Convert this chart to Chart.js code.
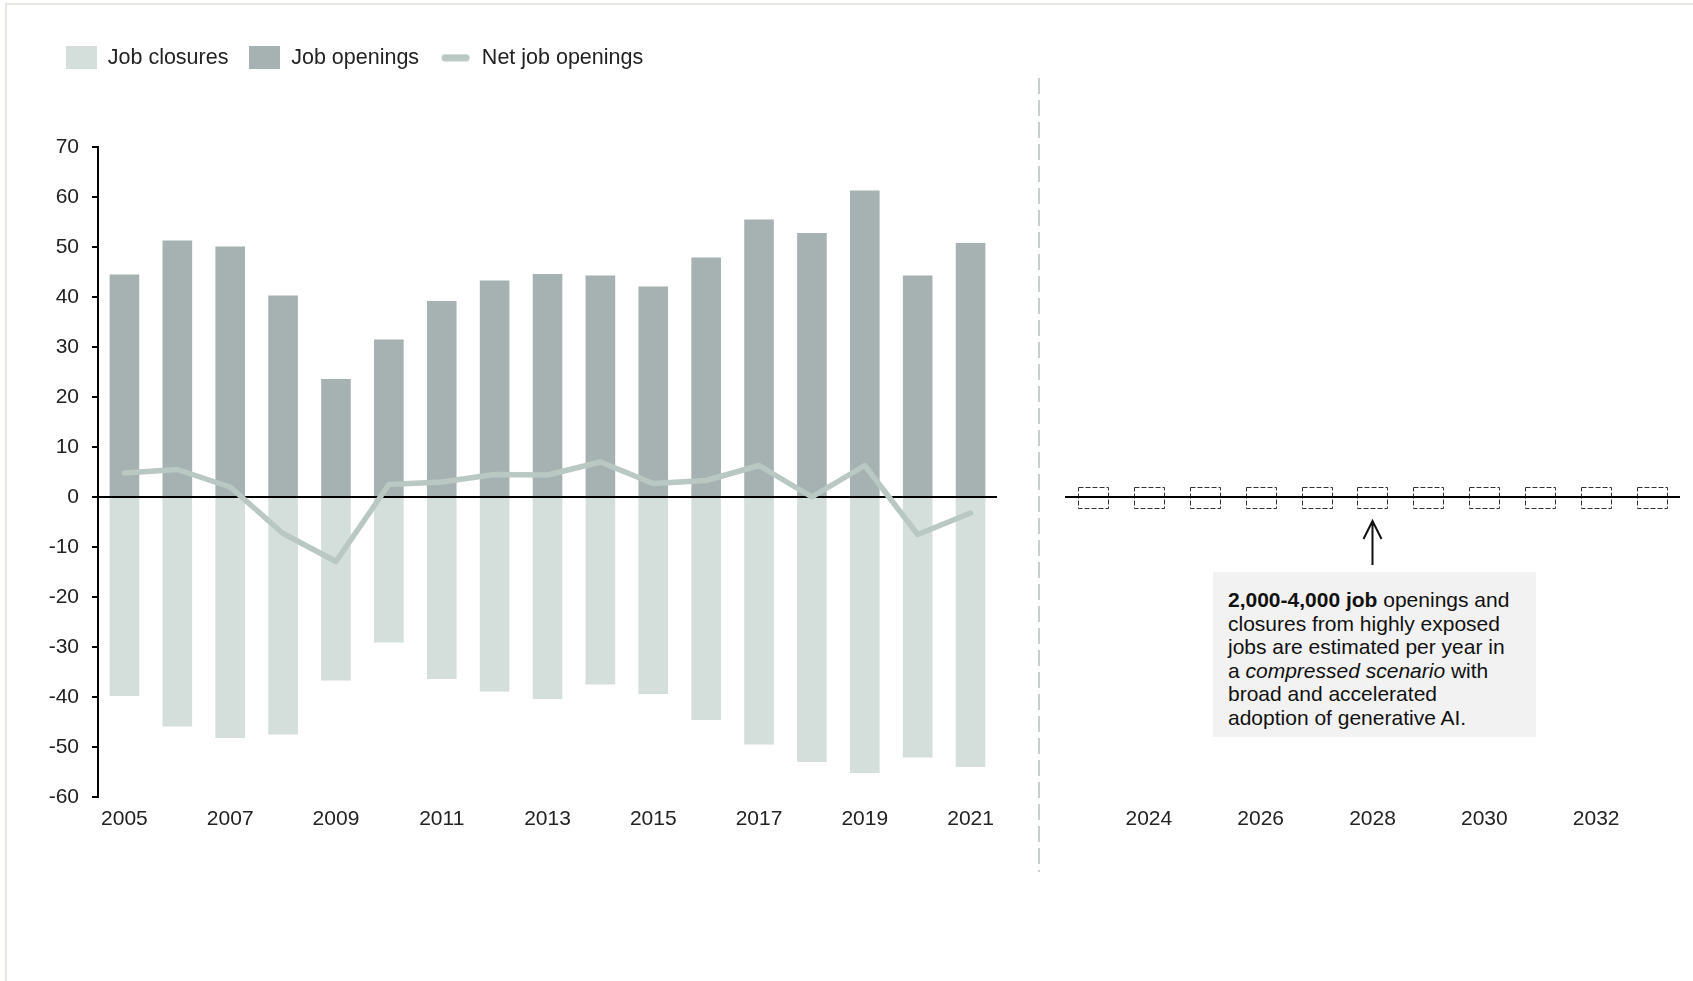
<!DOCTYPE html>
<html lang="en">
<head>
<meta charset="utf-8">
<title>Job openings and closures</title>
<script src="https://cdn.jsdelivr.net/npm/chart.js@4/dist/chart.umd.min.js"></script>
<style>
  html, body { margin: 0; padding: 0; background: #fff; }
  #page { position: relative; width: 1693px; height: 981px; overflow: hidden; }
  #page canvas { position: absolute; left: 0; top: 0; }
  .frame {
    position: absolute; left: 5px; top: 3px; right: 0; bottom: 0;
    border-top: 2px solid #e6e6e2; border-left: 2px solid #e6e6e2;
  }
  .divider {
    position: absolute; left: 1038px; top: 78px; width: 2px; height: 794px;
    background: repeating-linear-gradient(to bottom, #c6cfce 0 16px, transparent 16px 22px);
  }
  .note {
    position: absolute; left: 1213px; top: 572px; width: 323px; height: 165px;
    box-sizing: border-box; padding: 16px 0 0 15px;
    background: #f2f2f2; color: #111;
    font: 21px/23.6px "Liberation Sans", Arial, sans-serif; white-space: nowrap;
  }
</style>
</head>
<body>
<div id="page">
  <div class="frame"></div>
  <canvas id="historyChart" width="1693" height="981"></canvas>
  <canvas id="outlookChart" width="1693" height="981"></canvas>
  <div class="divider"></div>
  <div class="note">
    <b>2,000-4,000 job</b> openings and<br>
    closures from highly exposed<br>
    jobs are estimated per year in<br>
    a <i>compressed scenario</i> with<br>
    broad and accelerated<br>
    adoption of generative AI.
  </div>
</div>
<script>
  // Historical data (left panel)
  const years = ["2005", "2006", "2007", "2008", "2009", "2010", "2011", "2012", "2013",
                 "2014", "2015", "2016", "2017", "2018", "2019", "2020", "2021"];
  const jobOpenings = [44.5, 51.3, 50.1, 40.3, 23.6, 31.5, 39.2, 43.3, 44.6,
                       44.3, 42.1, 47.9, 55.5, 52.8, 61.3, 44.3, 50.8];
  const jobClosures = [-39.8, -45.9, -48.2, -47.5, -36.7, -29.1, -36.4, -38.9, -40.4,
                       -37.5, -39.4, -44.6, -49.5, -53.0, -55.2, -52.1, -54.0];
  const netJobOpenings = [4.8, 5.5, 2.0, -7.3, -12.9, 2.5, 3.0, 4.5, 4.4,
                          7.0, 2.7, 3.3, 6.3, 0.0, 6.3, -7.5, -3.2];

  // Outlook years (right panel), range per year
  const forecastYears = ["2023", "2024", "2025", "2026", "2027", "2028",
                         "2029", "2030", "2031", "2032", "2033"];
  const forecastLow = [-2.1, -2.1, -2.1, -2.1, -2.1, -2.1, -2.1, -2.1, -2.1, -2.1, -2.1];
  const forecastHigh = [2.1, 2.1, 2.1, 2.1, 2.1, 2.1, 2.1, 2.1, 2.1, 2.1, 2.1];

  // Y axis range
  const yMin = -60;
  const yMax = 70;
  const yStep = 10;

  const colors = {
    closures: "#d4dedb",
    openings: "#a5b2b1",
    net: "#b9c8c2",
    text: "#222",
  };

  Chart.defaults.font.family = "'Liberation Sans', Arial, sans-serif";
  Chart.defaults.font.size = 21;
  Chart.defaults.color = colors.text;

  // Legend markers
  function legendSwatch(color) {
    const c = document.createElement("canvas");
    c.width = 31;
    c.height = 23;
    const g = c.getContext("2d");
    g.fillStyle = color;
    g.fillRect(0, 0, 31, 23);
    return c;
  }

  function legendLine(color) {
    const c = document.createElement("canvas");
    c.width = 29;
    c.height = 8;
    const g = c.getContext("2d");
    g.strokeStyle = color;
    g.lineWidth = 7;
    g.lineCap = "round";
    g.beginPath();
    g.moveTo(4, 4);
    g.lineTo(25, 4);
    g.stroke();
    return c;
  }

  const legendMarkers = [legendSwatch(colors.closures), legendSwatch(colors.openings), legendLine(colors.net)];

  // Leave room between the legend and the plot
  const legendSpacing = {
    id: "legendSpacing",
    beforeInit(chart) {
      const originalFit = chart.legend.fit;
      chart.legend.fit = function fit() {
        originalFit.bind(chart.legend)();
        this.height = 121;
      };
    },
  };

  // Zero line, drawn over the bars but under the net line
  const zeroLine = {
    id: "zeroLine",
    beforeDatasetDraw(chart, args) {
      if (args.index !== 2) return;
      const { ctx, chartArea, scales } = chart;
      const y0 = scales.y.getPixelForValue(0);
      ctx.save();
      ctx.strokeStyle = "#000";
      ctx.lineWidth = 2;
      ctx.beginPath();
      ctx.moveTo(chartArea.left, y0);
      ctx.lineTo(chartArea.right, y0);
      ctx.stroke();
      ctx.restore();
    },
  };

  new Chart(document.getElementById("historyChart"), {
    type: "bar",
    data: {
      labels: years,
      datasets: [
        {
          label: "Job closures",
          data: jobClosures,
          backgroundColor: colors.closures,
          order: 2,
        },
        {
          label: "Job openings",
          data: jobOpenings,
          backgroundColor: colors.openings,
          order: 2,
        },
        {
          type: "line",
          label: "Net job openings",
          data: netJobOpenings,
          borderColor: colors.net,
          backgroundColor: colors.net,
          borderWidth: 5.5,
          borderCapStyle: "round",
          borderJoinStyle: "round",
          pointRadius: 0,
          tension: 0,
          order: 1,
        },
      ],
    },
    options: {
      responsive: false,
      animation: false,
      categoryPercentage: 1,
      barPercentage: 0.56,
      layout: { padding: { left: 45, right: 696, top: 26, bottom: 144 } },
      plugins: {
        tooltip: { enabled: false },
        legend: {
          position: "top",
          align: "start",
          labels: {
            usePointStyle: true,
            pointStyleWidth: 31,
            boxHeight: 23,
            padding: 21,
            color: colors.text,
            font: { size: 21.5 },
            sort: (a, b) => a.datasetIndex - b.datasetIndex,
            generateLabels(chart) {
              const items = Chart.defaults.plugins.legend.labels.generateLabels(chart);
              items.forEach((item) => {
                item.pointStyle = legendMarkers[item.datasetIndex];
              });
              return items;
            },
          },
        },
      },
      scales: {
        x: {
          stacked: true,
          grid: { display: false, drawTicks: false },
          border: { display: false },
          ticks: {
            autoSkip: false,
            maxRotation: 0,
            padding: 10,
            callback(value, index) {
              return index % 2 === 0 ? this.getLabelForValue(value) : "";
            },
          },
          afterFit(scale) {
            scale.height = 40;
          },
        },
        y: {
          min: yMin,
          max: yMax,
          ticks: { stepSize: yStep, padding: 13 },
          grid: { drawOnChartArea: false, drawTicks: true, tickLength: 6, tickColor: "#000", lineWidth: 2 },
          border: { display: true, color: "#000", width: 2 },
          afterFit(scale) {
            scale.width = 53;
          },
        },
      },
    },
    plugins: [legendSpacing, zeroLine],
  });

  // Dashed range boxes, zero line and arrow for the outlook panel
  const outlookMarks = {
    id: "outlookMarks",
    afterDatasetsDraw(chart) {
      const { ctx, chartArea, scales } = chart;
      const meta = chart.getDatasetMeta(0);
      ctx.save();
      ctx.strokeStyle = "#333";
      ctx.lineWidth = 1;
      ctx.setLineDash([5, 2]);
      meta.data.forEach((bar) => {
        const { x, y, base, width } = bar.getProps(["x", "y", "base", "width"], true);
        ctx.strokeRect(Math.round(x - width / 2) + 0.5, Math.round(Math.min(y, base)) + 0.5,
                       Math.round(width), Math.round(Math.abs(base - y)));
      });
      ctx.setLineDash([]);

      const y0 = scales.y.getPixelForValue(0);
      ctx.strokeStyle = "#000";
      ctx.lineWidth = 2;
      ctx.beginPath();
      ctx.moveTo(chartArea.left, y0);
      ctx.lineTo(chartArea.right, y0);
      ctx.stroke();

      // arrow pointing at the 2028 range
      const ax = scales.x.getPixelForValue(forecastYears.indexOf("2028"));
      const tip = y0 + 24;
      ctx.strokeStyle = "#111";
      ctx.lineWidth = 2;
      ctx.beginPath();
      ctx.moveTo(ax, y0 + 68);
      ctx.lineTo(ax, tip);
      ctx.moveTo(ax - 9, tip + 18);
      ctx.lineTo(ax, tip);
      ctx.lineTo(ax + 9, tip + 18);
      ctx.stroke();
      ctx.restore();
    },
  };

  new Chart(document.getElementById("outlookChart"), {
    type: "bar",
    data: {
      labels: forecastYears,
      datasets: [
        {
          label: "Job openings and closures",
          data: forecastYears.map((year, i) => [forecastLow[i], forecastHigh[i]]),
          backgroundColor: "transparent",
          borderWidth: 0,
        },
      ],
    },
    options: {
      responsive: false,
      animation: false,
      categoryPercentage: 1,
      barPercentage: 0.537,
      layout: { padding: { left: 1065, right: 13, top: 147, bottom: 144 } },
      plugins: {
        legend: { display: false },
        tooltip: { enabled: false },
      },
      scales: {
        x: {
          grid: { display: false, drawTicks: false },
          border: { display: false },
          ticks: {
            autoSkip: false,
            maxRotation: 0,
            padding: 10,
            callback(value, index) {
              return index % 2 === 1 ? this.getLabelForValue(value) : "";
            },
          },
          afterFit(scale) {
            scale.height = 40;
          },
        },
        y: {
          min: yMin,
          max: yMax,
          ticks: { display: false, stepSize: yStep },
          grid: { display: false, drawTicks: false },
          border: { display: false },
          afterFit(scale) {
            scale.width = 0;
          },
        },
      },
    },
    plugins: [outlookMarks],
  });
</script>
</body>
</html>
